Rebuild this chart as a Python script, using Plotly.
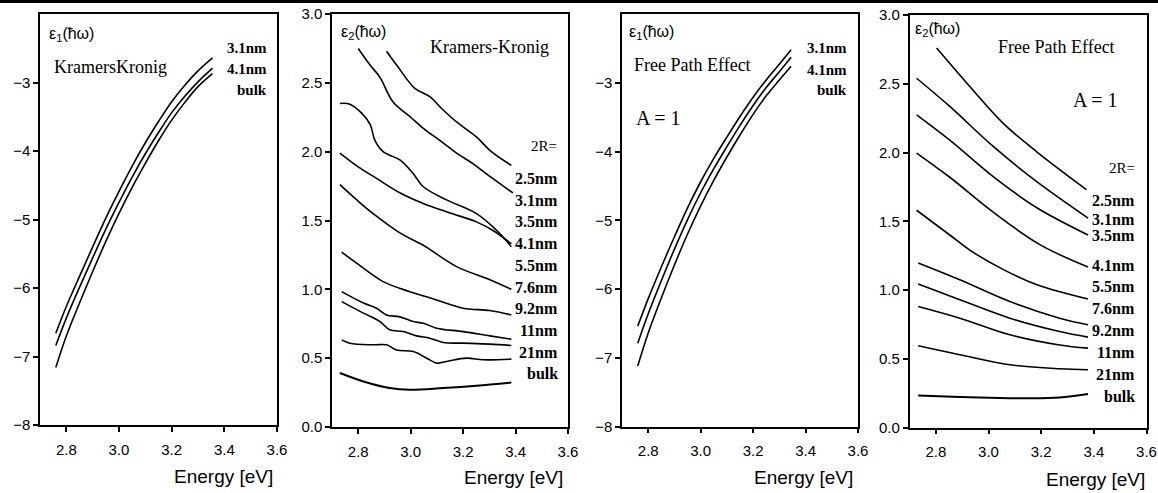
import plotly.graph_objects as go

# ---------------- DATA ----------------
# Panel 1: eps1, Kramers-Kronig
kk_e1_energy = [2.76, 2.80, 2.85, 2.90, 2.95, 3.00, 3.05, 3.10, 3.15, 3.20, 3.25, 3.30, 3.355]
kk_e1_31nm = [-6.66, -6.27, -5.83, -5.40, -4.98, -4.59, -4.22, -3.88, -3.57, -3.28, -3.04, -2.83, -2.64]
kk_e1_41nm = [-6.84, -6.44, -5.99, -5.56, -5.14, -4.75, -4.38, -4.04, -3.73, -3.44, -3.20, -2.99, -2.79]
kk_e1_bulk = [-7.16, -6.70, -6.22, -5.76, -5.32, -4.91, -4.53, -4.18, -3.85, -3.55, -3.29, -3.06, -2.87]
kk_e1_names = ["3.1nm", "4.1nm", "bulk"]

# Panel 2: eps2, Kramers-Kronig (each curve with its own energies)
kk_e2_names = ["2.5nm", "3.1nm", "3.5nm", "4.1nm", "5.5nm", "7.6nm", "9.2nm", "11nm", "21nm", "bulk"]
kk_e2_x_25 = [2.908, 2.95, 3.016, 3.073, 3.12, 3.175, 3.251, 3.302, 3.384]
kk_e2_y_25 = [2.73, 2.62, 2.46, 2.40, 2.31, 2.216, 2.107, 2.01, 1.90]
kk_e2_x_31 = [2.80, 2.845, 2.883, 2.933, 3.0, 3.048, 3.12, 3.175, 3.24, 3.302, 3.39]
kk_e2_y_31 = [2.75, 2.63, 2.54, 2.36, 2.25, 2.17, 2.07, 1.99, 1.91, 1.82, 1.70]
kk_e2_x_35 = [2.73, 2.768, 2.813, 2.845, 2.864, 2.895, 2.959, 3.01, 3.048, 3.137, 3.251, 3.327, 3.384]
kk_e2_y_35 = [2.35, 2.345, 2.28, 2.20, 2.08, 2.0, 1.94, 1.84, 1.745, 1.65, 1.55, 1.43, 1.31]
kk_e2_x_41 = [2.73, 2.80, 2.87, 2.96, 3.048, 3.15, 3.251, 3.32, 3.384]
kk_e2_y_41 = [1.99, 1.89, 1.806, 1.70, 1.624, 1.555, 1.49, 1.42, 1.33]
kk_e2_x_55 = [2.73, 2.80, 2.857, 2.959, 3.048, 3.073, 3.175, 3.302, 3.384]
kk_e2_y_55 = [1.76, 1.64, 1.55, 1.41, 1.32, 1.29, 1.165, 1.07, 1.0]
kk_e2_x_76 = [2.737, 2.794, 2.895, 2.997, 3.099, 3.2, 3.302, 3.384]
kk_e2_y_76 = [1.27, 1.19, 1.056, 0.983, 0.923, 0.863, 0.846, 0.814]
kk_e2_x_92 = [2.737, 2.82, 2.87, 2.908, 2.959, 3.01, 3.048, 3.099, 3.2, 3.302, 3.384]
kk_e2_y_92 = [0.983, 0.90, 0.863, 0.814, 0.80, 0.766, 0.754, 0.718, 0.693, 0.662, 0.638]
kk_e2_x_11 = [2.737, 2.82, 2.883, 2.92, 2.971, 3.022, 3.073, 3.124, 3.2, 3.302, 3.384]
kk_e2_y_11 = [0.911, 0.827, 0.766, 0.706, 0.694, 0.662, 0.645, 0.614, 0.609, 0.602, 0.592]
kk_e2_x_21 = [2.737, 2.768, 2.857, 2.908, 2.946, 3.01, 3.061, 3.099, 3.137, 3.213, 3.276, 3.384]
kk_e2_y_21 = [0.633, 0.609, 0.597, 0.597, 0.56, 0.548, 0.50, 0.464, 0.476, 0.50, 0.488, 0.493]
kk_e2_x_bulk = [2.73, 2.82, 2.92, 2.997, 3.124, 3.251, 3.384]
kk_e2_y_bulk = [0.392, 0.331, 0.283, 0.27, 0.283, 0.30, 0.323]

# Panel 3: eps1, Free Path Effect (A = 1)
fp_e1_energy = [2.76, 2.80, 2.85, 2.90, 2.95, 3.00, 3.05, 3.10, 3.15, 3.20, 3.25, 3.30, 3.345]
fp_e1_31nm = [-6.54, -6.14, -5.68, -5.24, -4.82, -4.44, -4.10, -3.79, -3.49, -3.21, -2.96, -2.73, -2.52]
fp_e1_41nm = [-6.79, -6.36, -5.88, -5.42, -4.99, -4.60, -4.25, -3.93, -3.62, -3.33, -3.07, -2.84, -2.63]
fp_e1_bulk = [-7.12, -6.64, -6.13, -5.65, -5.20, -4.79, -4.42, -4.08, -3.76, -3.46, -3.19, -2.96, -2.76]

# Panel 4: eps2, Free Path Effect (A = 1)
fp_e2_x_25 = [2.803, 2.929, 3.055, 3.182, 3.372]
fp_e2_y_25 = [2.76, 2.48, 2.214, 2.007, 1.73]
fp_e2_x_31 = [2.727, 2.853, 3.018, 3.182, 3.378]
fp_e2_y_31 = [2.54, 2.335, 2.044, 1.79, 1.523]
fp_e2_x_35 = [2.727, 2.853, 3.018, 3.182, 3.378]
fp_e2_y_35 = [2.274, 2.09, 1.825, 1.60, 1.40]
fp_e2_x_41 = [2.727, 2.853, 3.018, 3.195, 3.378]
fp_e2_y_41 = [1.996, 1.82, 1.566, 1.33, 1.167]
fp_e2_x_55 = [2.727, 2.853, 2.929, 3.055, 3.182, 3.378]
fp_e2_y_55 = [1.58, 1.40, 1.29, 1.15, 1.04, 0.934]
fp_e2_x_76 = [2.733, 2.891, 3.081, 3.27, 3.378]
fp_e2_y_76 = [1.196, 1.074, 0.916, 0.795, 0.747]
fp_e2_x_92 = [2.733, 2.891, 3.081, 3.27, 3.378]
fp_e2_y_92 = [1.043, 0.929, 0.795, 0.698, 0.657]
fp_e2_x_11 = [2.733, 2.891, 3.081, 3.27, 3.378]
fp_e2_y_11 = [0.88, 0.795, 0.674, 0.60, 0.577]
fp_e2_x_21 = [2.733, 2.891, 3.081, 3.27, 3.378]
fp_e2_y_21 = [0.594, 0.529, 0.456, 0.427, 0.42]
fp_e2_x_bulk = [2.733, 2.891, 3.04, 3.15, 3.27, 3.378]
fp_e2_y_bulk = [0.233, 0.222, 0.214, 0.212, 0.218, 0.243]

x_ticks = [2.8, 3.0, 3.2, 3.4, 3.6]
e1_ticks = [-8, -7, -6, -5, -4, -3]
e2_ticks = [0.0, 0.5, 1.0, 1.5, 2.0, 2.5, 3.0]

# ---------------- LAYOUT HELPERS ----------------
W, H = 1158, 493
def px(x):
    return x / W
def py(y):
    return 1 - y / H

fig = go.Figure()

def add_line(x, y, ax, width=1.6, shape="linear"):
    fig.add_trace(go.Scatter(x=x, y=y, mode="lines", xaxis="x" + ax, yaxis="y" + ax,
                             line=dict(color="black", width=width, shape=shape, smoothing=1.0),
                             showlegend=False, hoverinfo="skip"))

# panel 1
for ys in [kk_e1_31nm, kk_e1_41nm, kk_e1_bulk]:
    add_line(kk_e1_energy, ys, "", shape="spline")
# panel 2
kk_pairs = [(kk_e2_x_25, kk_e2_y_25), (kk_e2_x_31, kk_e2_y_31), (kk_e2_x_35, kk_e2_y_35),
            (kk_e2_x_41, kk_e2_y_41), (kk_e2_x_55, kk_e2_y_55), (kk_e2_x_76, kk_e2_y_76),
            (kk_e2_x_92, kk_e2_y_92), (kk_e2_x_11, kk_e2_y_11), (kk_e2_x_21, kk_e2_y_21),
            (kk_e2_x_bulk, kk_e2_y_bulk)]
for i, (xs, ys) in enumerate(kk_pairs):
    add_line(xs, ys, "2", width=2.0 if i == 9 else 1.6, shape="spline")
# panel 3
for ys in [fp_e1_31nm, fp_e1_41nm, fp_e1_bulk]:
    add_line(fp_e1_energy, ys, "3", shape="spline")
# panel 4
fp_pairs = [(fp_e2_x_25, fp_e2_y_25), (fp_e2_x_31, fp_e2_y_31), (fp_e2_x_35, fp_e2_y_35),
            (fp_e2_x_41, fp_e2_y_41), (fp_e2_x_55, fp_e2_y_55), (fp_e2_x_76, fp_e2_y_76),
            (fp_e2_x_92, fp_e2_y_92), (fp_e2_x_11, fp_e2_y_11), (fp_e2_x_21, fp_e2_y_21),
            (fp_e2_x_bulk, fp_e2_y_bulk)]
for i, (xs, ys) in enumerate(fp_pairs):
    add_line(xs, ys, "4", width=2.0 if i == 9 else 1.6, shape="spline")

tickfont = dict(family="Liberation Sans", size=15, color="black")
def axstyle(**kw):
    d = dict(showline=True, mirror=True, linecolor="black", linewidth=1.5,
             ticks="outside", ticklen=5, tickwidth=1.5, tickcolor="black",
             showgrid=False, zeroline=False, tickfont=tickfont, automargin=False)
    d.update(kw)
    return d

panels = {
    "": ((40, 277), (425, 14), [-8, -2], e1_ticks, None),
    "2": ((332, 568), (427, 14), [0, 3], e2_ticks, ".1f"),
    "3": ((622, 858), (426.5, 14), [-8, -2], e1_ticks, None),
    "4": ((909.5, 1146.5), (427.5, 15), [0, 3], e2_ticks, ".1f"),
}
lay = {}
for k, (xd, yd, yr, yt, fmt) in panels.items():
    lay["xaxis" + k] = axstyle(domain=[px(xd[0]), px(xd[1])], range=[2.7, 3.6],
                               tickvals=x_ticks, tickformat=".1f", anchor="y" + k,
                               ticklabelstandoff=5)
    yk = axstyle(domain=[py(yd[0]), py(yd[1])], range=yr, tickvals=yt, anchor="x" + k)
    if fmt:
        yk["tickformat"] = fmt
    lay["yaxis" + k] = yk

annotations = []
def txt(x, y, s, size=15, family="Liberation Sans", xanchor="left", bold=False):
    if bold:
        s = "<b>" + s + "</b>"
    annotations.append(dict(x=px(x), y=py(y), xref="paper", yref="paper", text=s,
                            showarrow=False, xanchor=xanchor, yanchor="middle",
                            font=dict(family=family, size=size, color="black")))

serif = "Liberation Serif"
# panel titles
txt(47, 35, "ε<sub>1</sub>(ħω)", size=16)
txt(52, 67, "KramersKronig", size=18, family=serif)
txt(339, 33, "ε<sub>2</sub>(ħω)", size=16)
txt(428, 47, "Kramers-Kronig", size=18, family=serif)
txt(627, 33, "ε<sub>1</sub>(ħω)", size=16)
txt(632, 65, "Free Path Effect", size=18, family=serif)
txt(634, 118, "A = 1", size=20, family=serif)
txt(913, 30, "ε<sub>2</sub>(ħω)", size=16)
txt(996, 47, "Free Path Effect", size=18, family=serif)
txt(1071, 100, "A = 1", size=20, family=serif)

# curve labels panel 1 & 3
for i, name in enumerate(kk_e1_names):
    txt(269, [48, 69, 90][i], name, size=15, family=serif, xanchor="right", bold=True)
    txt(849, [48, 70, 90][i], name, size=15, family=serif, xanchor="right", bold=True)

# curve labels panel 2
txt(559, 146, "2R=", size=15, family=serif, xanchor="right")
for i, name in enumerate(kk_e2_names):
    txt(560, 178.5 + i * 21.7, name, size=16, family=serif, xanchor="right", bold=True)
# curve labels panel 4
txt(1137, 168, "2R=", size=15, family=serif, xanchor="right")
p4_label_y = [200, 220, 235, 265, 286.7, 308.3, 330, 352.7, 374.3, 396]
for i, name in enumerate(kk_e2_names):
    txt(1137, p4_label_y[i], name, size=16, family=serif, xanchor="right", bold=True)

# axis titles
for xr, yy in [(275, 476), (565, 477), (855, 477), (1147, 479)]:
    txt(xr, yy, "Energy [eV]", size=19, xanchor="right")

fig.update_layout(
    template="none",
    width=W, height=H, margin=dict(l=0, r=0, t=0, b=0, pad=0), autosize=False,
    paper_bgcolor="white", plot_bgcolor="white",
    annotations=annotations,
    shapes=[dict(type="line", xref="paper", yref="paper", x0=0, x1=1, y0=py(1.5), y1=py(1.5),
                 line=dict(color="black", width=3))],
    **lay,
)
fig.write_html("out.html", config={"displayModeBar": False},
               post_script="document.body.style.margin='0px';")
